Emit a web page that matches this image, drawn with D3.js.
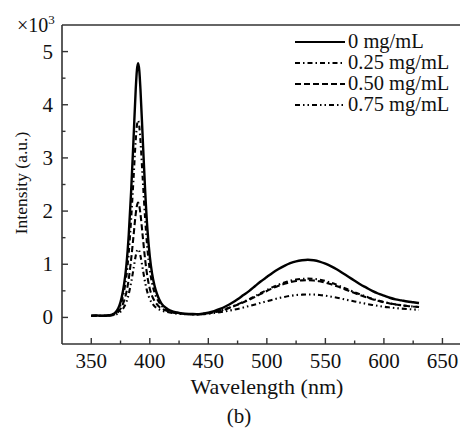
<!DOCTYPE html>
<html>
<head>
<meta charset="utf-8">
<script src="https://cdn.jsdelivr.net/npm/d3@7"></script>
<style>
body { margin: 0; background: #fff; }
text { font-family: "Liberation Serif", "Times New Roman", serif; fill: #111; }
</style>
</head>
<body>
<svg id="canvas" width="460" height="428"></svg>
<script>
var wavelengths = [350,355,360,365,368,370,372,374,376,378,380,382,384,386,388,389,390,391,392,394,396,398,400,402,404,406,408,410,415,420,425,430,435,440,445,450,455,460,465,470,475,480,485,490,495,500,505,510,515,520,525,530,535,540,545,550,555,560,565,570,575,580,585,590,595,600,605,610,615,620,625,630];

var conc0 = [30,35,30,40,55,80,130,220,380,620,980,1550,2350,3300,4300,4650,4780,4650,4300,3350,2400,1650,1150,820,600,450,340,260,160,110,85,70,65,60,70,90,120,160,210,270,340,420,500,590,680,760,840,910,970,1020,1055,1075,1085,1075,1050,1010,960,900,830,760,690,620,560,500,450,410,370,340,320,300,285,270];
var conc025 = [30,32,30,38,50,70,110,180,300,490,770,1210,1830,2570,3340,3610,3700,3600,3330,2590,1860,1280,890,640,470,360,280,220,140,100,80,65,60,58,65,80,100,125,160,200,245,295,345,400,460,515,570,615,655,690,712,725,730,725,710,685,650,610,565,520,475,430,390,350,320,290,265,245,230,215,205,195];
var conc050 = [30,33,30,36,45,60,85,130,200,310,470,720,1080,1510,1950,2100,2160,2100,1950,1520,1090,760,540,400,310,250,200,170,120,90,75,65,60,58,63,78,97,122,155,195,238,285,335,388,445,498,550,595,633,665,685,697,700,695,680,655,622,585,543,500,458,418,380,343,313,285,262,243,228,214,204,195];
var conc075 = [28,30,28,33,40,50,65,90,130,195,290,440,650,900,1160,1250,1280,1250,1160,910,660,470,345,265,210,175,150,130,100,80,68,60,55,55,60,70,82,97,115,137,160,187,215,245,275,305,335,362,385,405,420,428,432,430,422,408,390,370,347,323,300,277,255,235,217,200,187,175,165,157,150,143];

var seriesNames = ["0 mg/mL", "0.25 mg/mL", "0.50 mg/mL", "0.75 mg/mL"];
var seriesValues = [conc0, conc025, conc050, conc075];
var dashes = ["none", "5,3,1.5,3", "6,3", "5,3,1.5,3,1.5,3"];

var xTicks = [350,400,450,500,550,600,650];
var xMinor = [375,425,475,525,575,625];
var yTicks = [0,1000,2000,3000,4000,5000];
var yMinor = [500,1500,2500,3500,4500];

function draw(){
	var svg = d3.select("#canvas");
	var pLeft = 62, pRight = 460, pTop = 25, pBottom = 344;

	var x = d3.scaleLinear().domain([325, 665]).range([pLeft, pRight]);
	var y = d3.scaleLinear().domain([-500, 5500]).range([pBottom, pTop]);

	// frame: left, bottom, top (right side runs off the picture)
	var frame = svg.append("g").attr("stroke", "#333").attr("stroke-width", 1.6).attr("fill", "none");
	frame.append("line").attr("x1", pLeft).attr("x2", pLeft).attr("y1", pTop).attr("y2", pBottom);
	frame.append("line").attr("x1", pLeft).attr("x2", pRight).attr("y1", pBottom).attr("y2", pBottom);
	frame.append("line").attr("x1", pLeft).attr("x2", pRight).attr("y1", pTop).attr("y2", pTop);

	// ticks pointing inward
	var ticks = svg.append("g").attr("stroke", "#333").attr("stroke-width", 1.4);
	ticks.selectAll(".xt").data(xTicks).enter().append("line")
		.attr("x1", function(d){ return x(d); }).attr("x2", function(d){ return x(d); })
		.attr("y1", pBottom).attr("y2", pBottom - 6);
	ticks.selectAll(".xm").data(xMinor).enter().append("line")
		.attr("x1", function(d){ return x(d); }).attr("x2", function(d){ return x(d); })
		.attr("y1", pBottom).attr("y2", pBottom - 3.5);
	ticks.selectAll(".yt").data(yTicks).enter().append("line")
		.attr("y1", function(d){ return y(d); }).attr("y2", function(d){ return y(d); })
		.attr("x1", pLeft).attr("x2", pLeft + 6);
	ticks.selectAll(".ym").data(yMinor).enter().append("line")
		.attr("y1", function(d){ return y(d); }).attr("y2", function(d){ return y(d); })
		.attr("x1", pLeft).attr("x2", pLeft + 3.5);

	svg.selectAll(".xl").data(xTicks).enter().append("text")
		.attr("x", function(d){ return x(d); })
		.attr("y", 368)
		.attr("text-anchor", "middle")
		.attr("font-size", 21)
		.text(function(d){ return d; });

	svg.selectAll(".yl").data(yTicks).enter().append("text")
		.attr("x", 53)
		.attr("y", function(d){ return y(d) + 7; })
		.attr("text-anchor", "end")
		.attr("font-size", 21)
		.text(function(d){ return d / 1000; });

	var mult = svg.append("text").attr("x", 17).attr("y", 32).attr("font-size", 20);
	mult.append("tspan").text("×10");
	mult.append("tspan").attr("font-size", 13).attr("dy", -8).text("3");

	svg.append("text")
		.attr("x", 267).attr("y", 394)
		.attr("text-anchor", "middle")
		.attr("font-size", 22)
		.text("Wavelength (nm)");

	svg.append("text")
		.attr("x", 239).attr("y", 423)
		.attr("text-anchor", "middle")
		.attr("font-size", 21)
		.text("(b)");

	svg.append("text")
		.attr("transform", "translate(27,183) rotate(-90)")
		.attr("text-anchor", "middle")
		.attr("font-size", 17.5)
		.text("Intensity (a.u.)");

	// curves
	var line = d3.line()
		.x(function(d){ return x(d[0]); })
		.y(function(d){ return y(d[1]); })
		.curve(d3.curveMonotoneX);

	svg.append("g").selectAll("path")
		.data(seriesValues)
		.enter()
		.append("path")
		.attr("d", function(vals){
			return line(wavelengths.map(function(w, i){ return [w, vals[i]]; }));
		})
		.attr("fill", "none")
		.attr("stroke", "#000")
		.attr("stroke-width", function(d, i){ return i == 0 ? 2.4 : 2.1; })
		.attr("stroke-dasharray", function(d, i){ return dashes[i]; });

	// legend
	var legend = svg.append("g").selectAll("g")
		.data(seriesNames)
		.enter()
		.append("g")
		.attr("transform", function(d, i){ return "translate(295," + (48 + i * 21) + ")"; });
	legend.append("line")
		.attr("x1", 0).attr("x2", 50)
		.attr("y1", -6).attr("y2", -6)
		.attr("stroke", "#000")
		.attr("stroke-width", 1.8)
		.attr("stroke-dasharray", function(d, i){ return dashes[i]; });
	legend.append("text")
		.attr("x", 53).attr("y", 0)
		.attr("font-size", 20.5)
		.text(function(d){ return d; });
}

draw();
</script>
</body>
</html>
